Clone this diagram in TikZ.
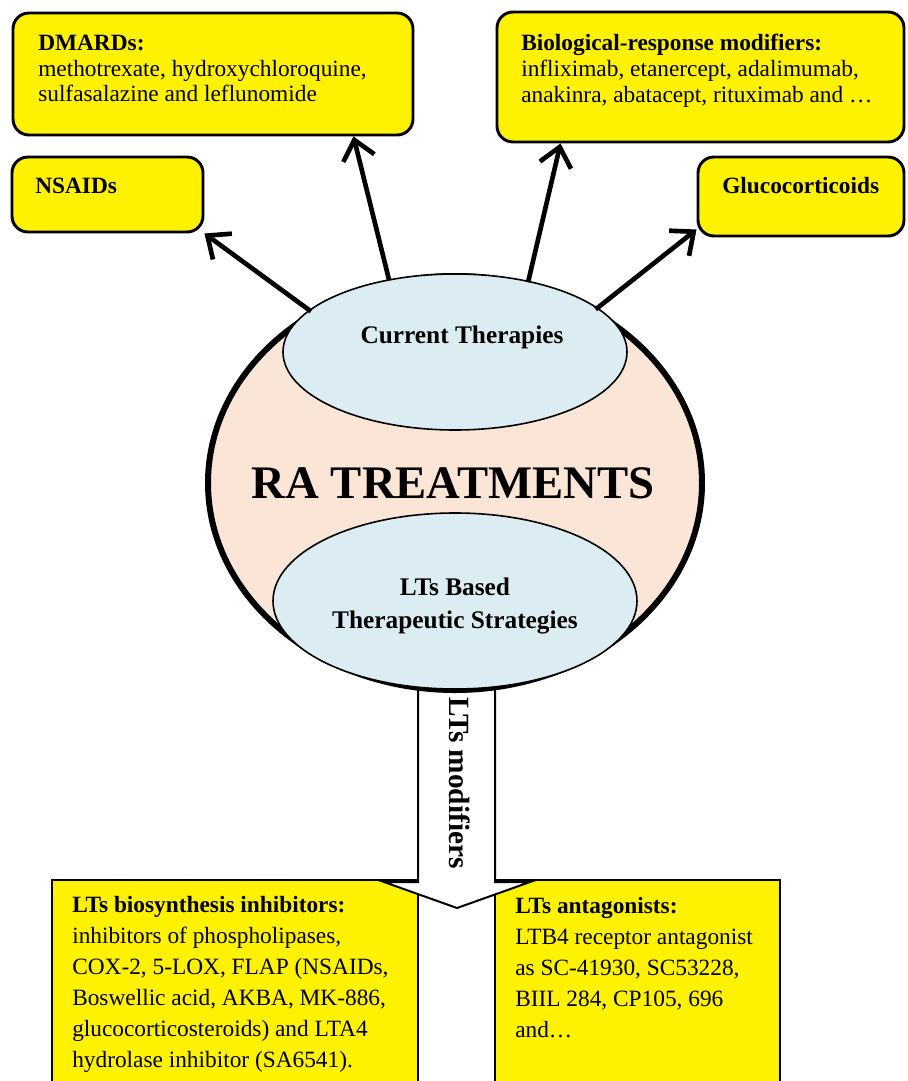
\documentclass[tikz,border=0pt]{standalone}
\usepackage{fontspec}
\setmainfont{Liberation Serif}
\usetikzlibrary{arrows.meta,shapes.geometric,positioning}
\definecolor{peach}{RGB}{251,229,214}
\definecolor{paleblue}{RGB}{219,236,243}
\tikzset{
  box/.style={draw, line width=2.2pt, fill=yellow, rounded corners=12pt, inner sep=0pt},
  lowbox/.style={draw, line width=2.2pt, fill=yellow, inner sep=0pt},
  txt/.style={inner sep=0pt, align=left, font=\fontsize{17.5}{19.5}\selectfont},
  lowtxt/.style={inner sep=0pt, align=left, font=\fontsize{17.5}{23.25}\selectfont},
  hdr/.style={inner sep=0pt, align=center, font=\bfseries\fontsize{19}{24.75}\selectfont},
  oval/.style={ellipse, draw, line width=1.2pt, fill=paleblue, inner sep=0pt},
  link/.style={line width=3.5pt, -{Straight Barb[length=14pt,width=24pt]}},
}
\begin{document}
\begin{tikzpicture}[x=0.75pt,y=-0.75pt]
\useasboundingbox (0,0) rectangle (907,1081);
\clip (0,0) rectangle (907,1081);
% lower boxes
\node[lowbox, minimum width=274.5pt, minimum height=165pt] (biosyn) at (235,990) {};
\node[lowbox, minimum width=213.75pt, minimum height=165pt] (antag) at (637.5,990) {};
\node[lowtxt, anchor=base west] (biosynt) at (72,1067) {\textbf{LTs biosynthesis inhibitors:}\\inhibitors of phospholipases,\\COX-2, 5-LOX, FLAP (NSAIDs,\\Boswellic acid, AKBA, MK-886,\\glucocorticosteroids) and LTA4\\hydrolase inhibitor (SA6541).};
\node[lowtxt, anchor=base west] (antagt) at (515,1037) {\textbf{LTs antagonists:}\\LTB4 receptor antagonist\\as SC-41930, SC53228,\\BIIL 284, CP105, 696\\and…};
% big arrow
\draw[line width=1.5pt, fill=white] (418,650) -- (418,882) -- (384,882) -- (457,908) -- (530,882) -- (495,882) -- (495,650) -- cycle;
\node[rotate=-90, font=\bfseries\fontsize{22}{24}\selectfont] (ltsmod) at (460,783) {LTs modifiers};
% circle
\node[ellipse, draw, line width=4.5pt, fill=peach, minimum width=370.5pt, minimum height=310.5pt, inner sep=0pt] (ra) at (455,483) {};
\node[font=\bfseries\fontsize{35}{40}\selectfont, anchor=base, inner sep=0pt] (ratxt) at (453,498) {RA TREATMENTS};
\node[oval, minimum width=258pt, minimum height=117pt] (cur) at (455,352) {};
\node[hdr, anchor=base] (curt) at (462,343) {Current Therapies};
\node[oval, minimum width=273pt, minimum height=132pt] (lts) at (455,601) {};
\node[hdr, anchor=base] (ltst) at (455,628) {LTs Based\\Therapeutic Strategies};
% upper boxes
\node[box, minimum width=300pt, minimum height=91.5pt] (dmards) at (213,74) {};
\node[box, minimum width=143.25pt, minimum height=56.25pt] (nsaids) at (107.5,194.5) {};
\node[box, minimum width=305.25pt, minimum height=97.5pt] (bio) at (700.5,77) {};
\node[box, minimum width=154.5pt, minimum height=59.25pt] (gluco) at (801,196.5) {};
\node[txt, anchor=base west] (dmardst) at (38,102) {\textbf{DMARDs:}\\methotrexate, hydroxychloroquine,\\sulfasalazine and leflunomide};
\node[txt, anchor=base west] (nsaidst) at (35,193) {\textbf{NSAIDs}};
\node[txt, anchor=base west] (biot) at (521,103) {\textbf{Biological-response modifiers:}\\infliximab, etanercept, adalimumab,\\anakinra, abatacept, rituximab and …};
\node[txt, anchor=base west] (glucot) at (722,193) {\textbf{Glucocorticoids}};
% arrows
\draw[link] (ra.130) -- (nsaids.south east);
\draw[link] (ra.108) -- ([xshift=-45.75pt]dmards.south east);
\draw[link] (ra.70) -- ([xshift=48.75pt]bio.south west);
\draw[link] (ra.51) -- ([yshift=6pt]gluco.south west);
\end{tikzpicture}
\end{document}
